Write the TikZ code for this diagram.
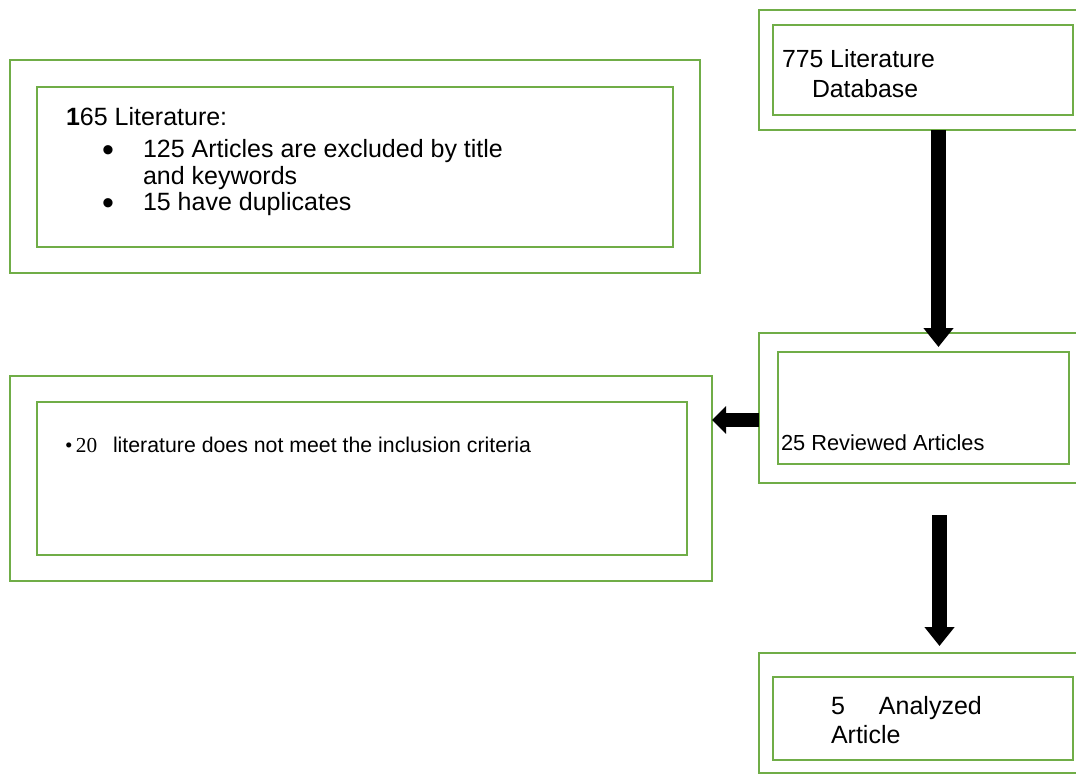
\documentclass[tikz,border=0pt]{standalone}
\usepackage{fontspec}
\setmainfont{Liberation Sans}
\newfontfamily\serifb{Liberation Serif}
\usetikzlibrary{arrows.meta}
\definecolor{boxgreen}{RGB}{112,173,71}
\tikzset{
  frame/.style={draw=boxgreen, line width=2.2pt, rectangle, inner sep=0pt, outer sep=0pt},
  txt/.style={anchor=base west, inner sep=0pt, outer sep=0pt, text=black},
  big/.style={font=\fontsize{25}{29}\selectfont},
  bul/.style={anchor=base west, inner sep=0pt, outer sep=0pt, font=\fontsize{34}{34}\selectfont},
  bigarrow/.style={line width=15pt, -{Triangle[width=29pt,length=19pt]}},
  midarrow/.style={line width=14pt, -{Triangle[width=27pt,length=14pt]}}
}
\begin{document}
\begin{tikzpicture}[x=1pt,y=-1pt]
\useasboundingbox (0,0) rectangle (1076,774);
% box 1
\node[frame, minimum width=690pt, minimum height=213pt] (b1o) at (355,166.5) {};
\node[frame, minimum width=636pt, minimum height=160pt] (b1i) at (355,167) {};
\node[txt, big] (t1a) at (66,125) {{\bfseries 1}65 Literature:};
\node[bul] (t1b) at (102,161) {•};
\node[txt, big] (t1c) at (143,157) {125 Articles are excluded by title};
\node[txt, big] (t1d) at (143,184) {and keywords};
\node[bul] (t1e) at (102,214) {•};
\node[txt, big] (t1f) at (143,210) {15 have duplicates};
% box 2
\node[frame, minimum width=321pt, minimum height=120pt] (b2o) at (919.5,70) {};
\node[frame, minimum width=300pt, minimum height=90pt] (b2i) at (923,70) {};
\node[txt, font=\fontsize{24.8}{28}\selectfont] (t2a) at (782,67) {775 Literature};
\node[txt, font=\fontsize{24.8}{28}\selectfont] (t2b) at (812,97) {Database};
% box 3
\node[frame, minimum width=321pt, minimum height=150pt] (b3o) at (919.5,408) {};
\node[frame, minimum width=291pt, minimum height=112pt] (b3i) at (923.5,408) {};
\node[txt, font=\fontsize{21.8}{25}\selectfont] (t3) at (781,450) {25 Reviewed Articles};
% box 4
\node[frame, minimum width=702pt, minimum height=205pt] (b4o) at (361,478.5) {};
\node[frame, minimum width=650pt, minimum height=153pt] (b4i) at (362,478.5) {};
\node[txt, font=\fontsize{21.3}{25}\selectfont] (t4) at (65,452) {\makebox[48pt][l]{\serifb •\,20}literature does not meet the inclusion criteria};
% box 5
\node[frame, minimum width=321pt, minimum height=120pt] (b5o) at (919.5,713) {};
\node[frame, minimum width=300pt, minimum height=83pt] (b5i) at (923,718.5) {};
\node[txt, big] (t5a) at (831,714) {\makebox[48pt][l]{5}Analyzed};
\node[txt, big] (t5b) at (831,743) {Article};
% arrows
\coordinate (a1e) at (938.5,347);
\coordinate (a2s) at (939.5,515);
\coordinate (a2e) at (939.5,646);
\coordinate (a3y) at (0,420);
\draw[bigarrow] (b2o.south -| a1e) -- (a1e);
\draw[bigarrow] (a2s) -- (a2e);
\draw[midarrow] (b3o.west |- a3y) -- (b4o.east |- a3y);
\end{tikzpicture}
\end{document}
